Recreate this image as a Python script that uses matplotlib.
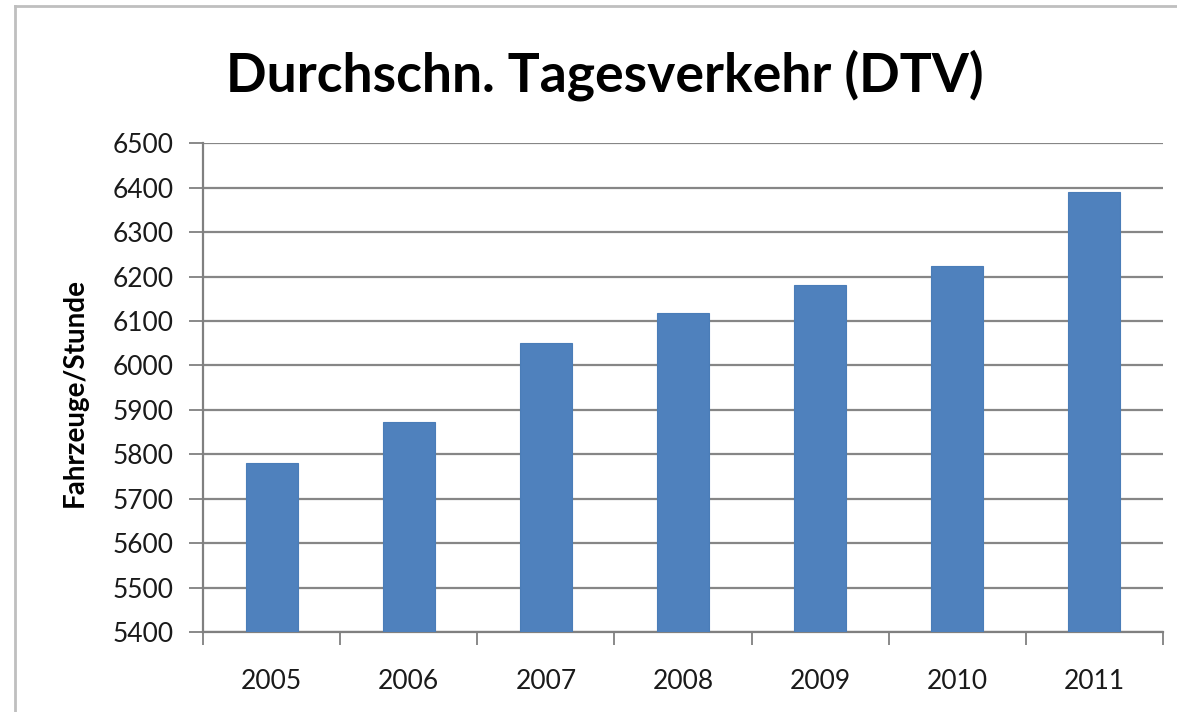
import numpy as np
import matplotlib.pyplot as plt
from matplotlib.lines import Line2D

# data
years = ["2005", "2006", "2007", "2008", "2009", "2010", "2011"]
dtv = [5780, 5872, 6050, 6119, 6180, 6224, 6390]
y_ticks = list(range(5400, 6501, 100))

plt.rcParams['font.family'] = ['Lato', 'DejaVu Sans']

fig = plt.figure(figsize=(11.77, 7.12), dpi=100)
fig.patch.set_linewidth(0)
ax = fig.add_axes([0.1725, 0.1124, 0.8155, 0.6863])

x = np.arange(len(years))
ax.bar(x, dtv, width=0.38, color="#4F81BD", edgecolor="#4A7DB8", linewidth=0.8, zorder=3)

ax.set_xlim(-0.5, len(years) - 0.5)
ax.set_ylim(5400, 6500)
ax.set_yticks(y_ticks)
ax.set_yticklabels([str(t) for t in y_ticks], fontsize=19, color="#1A1A1A")

# x ticks at category boundaries, labels at centers
ax.set_xticks(np.arange(-0.5, len(years)), minor=True)
ax.set_xticks(x)
ax.set_xticklabels(years, fontsize=19, color="#1A1A1A")
ax.tick_params(axis='x', which='major', length=0, pad=27)
ax.tick_params(axis='x', which='minor', length=9, width=1.3, color="#808080")
ax.tick_params(axis='y', length=10, width=1.3, color="#808080", pad=11)

ax.grid(axis='y', color="#868686", linewidth=1.6, zorder=0)
for s in ['top', 'right']:
    ax.spines[s].set_visible(False)
for s in ['left', 'bottom']:
    ax.spines[s].set_color("#808080")
    ax.spines[s].set_linewidth(1.6)

ax.set_ylabel("Fahrzeuge/Stunde", fontsize=20, fontweight='bold')
ax.yaxis.set_label_coords(-0.12, 0.49)

fig.text(0.514, 0.895, "Durchschn. Tagesverkehr (DTV)", fontsize=38.5, fontweight='bold',
         ha='center', va='center', color="#000000")

# outer chart border, only top and left edges are in the picture
bx, by = 15 / 1177, 1 - 6 / 712
fig.add_artist(Line2D([bx, bx], [0.0, by], transform=fig.transFigure,
                      color="#BFBFBF", linewidth=2))
fig.add_artist(Line2D([bx, 1.0], [by, by], transform=fig.transFigure,
                      color="#BFBFBF", linewidth=2))

fig.savefig("out.png", dpi=100)
